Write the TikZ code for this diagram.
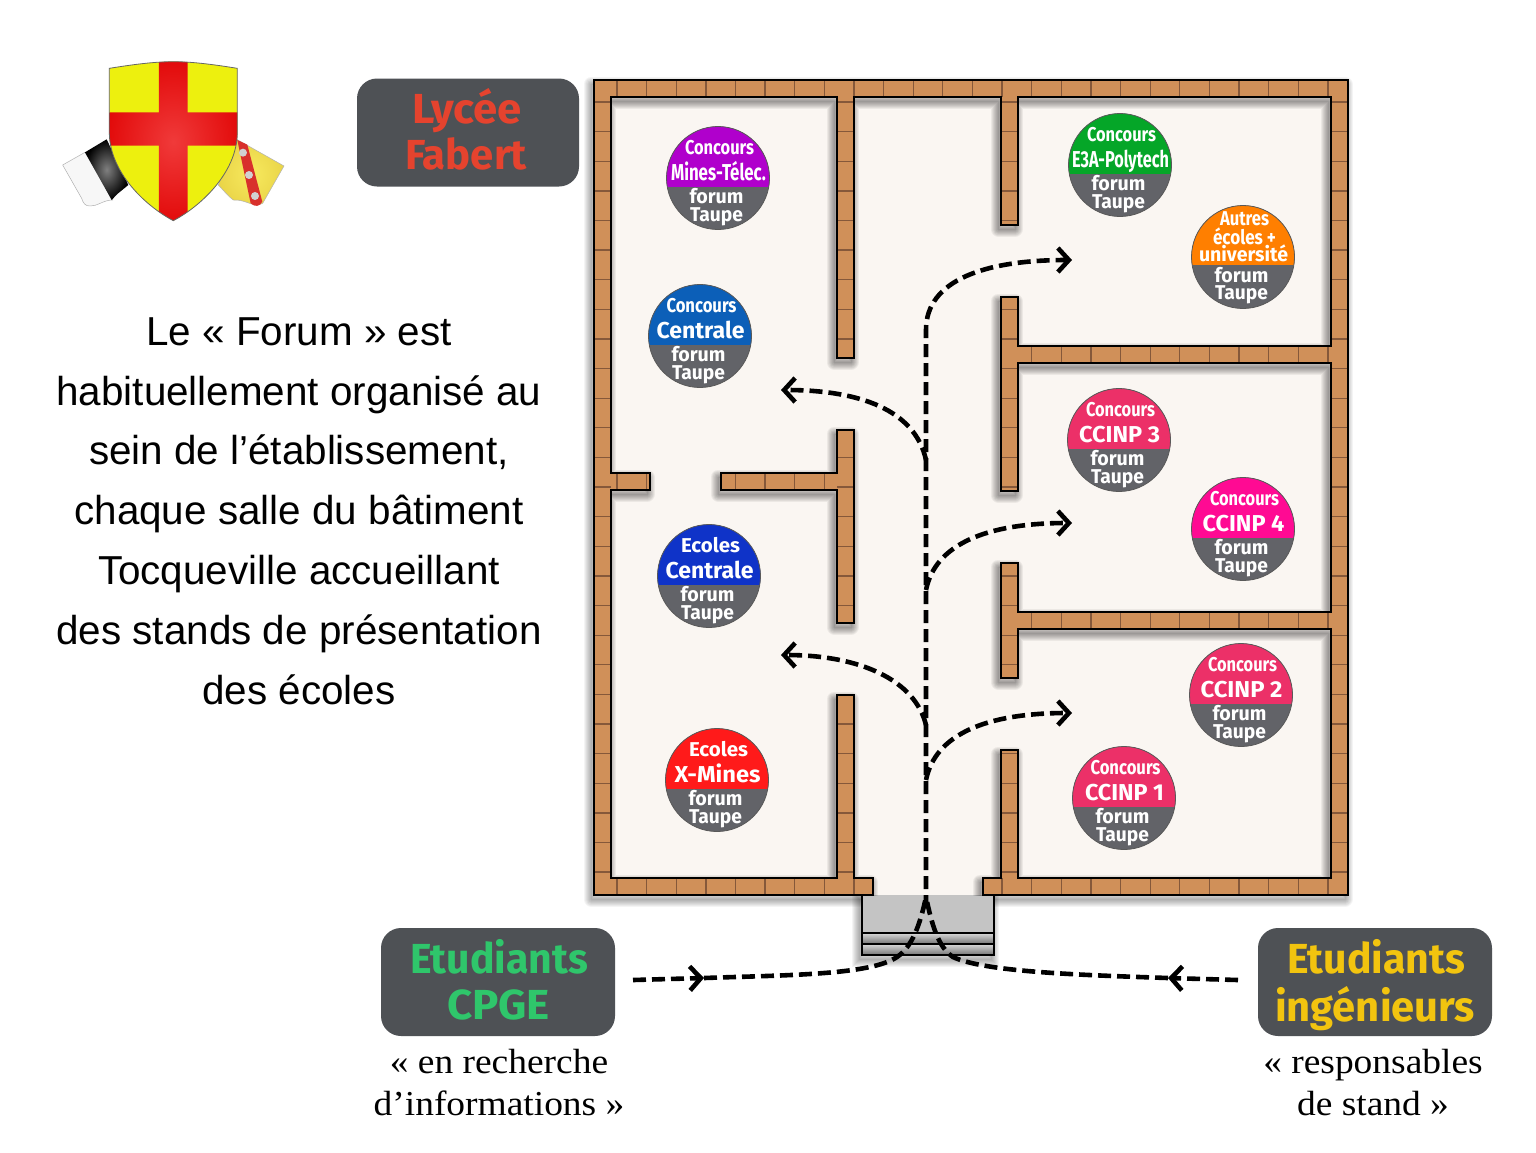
\documentclass[tikz,border=0pt]{standalone}
\usepackage{fontspec}
\usepackage{graphicx}
\usetikzlibrary{arrows.meta}
\setmainfont{Liberation Sans}
\newfontfamily\din{Fira Sans}
\newfontfamily\capserif[FakeStretch=1.07]{Liberation Serif}
\definecolor{brick}{HTML}{D09059}
\definecolor{brickline}{HTML}{85583A}
\definecolor{floorc}{HTML}{FAF6F2}
\definecolor{boxc}{HTML}{4E5155}
\definecolor{badgegrey}{HTML}{626368}
\definecolor{cpurple}{HTML}{B000CC}
\definecolor{cteal}{HTML}{0C5FB8}
\definecolor{cgreen}{HTML}{05A628}
\definecolor{corange}{HTML}{FF7F00}
\definecolor{ccrim}{HTML}{EC3068}
\definecolor{cpink}{HTML}{FF0A93}
\definecolor{cblue}{HTML}{0F33C8}
\definecolor{cred}{HTML}{FF1A1A}
\definecolor{lred}{HTML}{E5432E}
\definecolor{lgreen}{HTML}{2FC66B}
\definecolor{lyellow}{HTML}{F2C40F}
\definecolor{shieldy}{HTML}{EDF00E}
\definecolor{shieldr}{HTML}{E20A0A}
\definecolor{shieldh}{HTML}{F03A3A}
\definecolor{flagy}{HTML}{EAD548}
\definecolor{flagyh}{HTML}{F7E95E}
\definecolor{flagr}{HTML}{D8302C}
\newcommand\fw[3]{\resizebox{#2pt}{\height}{\fontsize{#1}{#1}\selectfont\din\bfseries #3}}
\tikzset{
  badgedisc/.style={circle,minimum size=103pt,inner sep=0pt,draw=black!65,line width=.8pt,fill=badgegrey},
  badgetext/.style={anchor=base,inner sep=0pt,text=white},
  labelbox/.style={rounded corners=20pt,fill=boxc,minimum height=108pt,inner sep=0pt},
  bigtext/.style={anchor=base,inner sep=0pt},
  route/.style={draw=black,line width=4.6pt,dash pattern=on 13pt off 6pt},
  tipr/.style={-{Straight Barb[length=11pt,width=24pt,line width=4.6pt]}},
}
% name, cx, cy, colour, line1 w, line1, line2 w, line2
\newcommand\badge[8]{%
  \node[badgedisc,path picture={\fill[#4] (-60,-60) rectangle (60,9);}] (#1) at (#2,#3) {};
  \node[badgetext] (#1-a) at (#2+1.5,#3-24) {\fw{20}{#5}{#6}};
  \node[badgetext] (#1-b) at (#2+.5,#3+2) {\fw{23}{#7}{#8}};
  \node[badgetext] (#1-c) at (#2-1.5,#3+25) {\fw{20}{54}{forum}};
  \node[badgetext] (#1-d) at (#2-1.5,#3+43) {\fw{20}{53}{Taupe}};
}
\def\wallpath{(873,895) -- (594,895) -- (594,80) -- (1348,80) -- (1348,895) -- (983,895) -- (983,878) -- (1001,878) -- (1001,750) -- (1018,750) -- (1018,878) -- (1331,878) -- (1331,629) -- (1018,629) -- (1018,678) -- (1001,678) -- (1001,563) -- (1018,563) -- (1018,612) -- (1331,612) -- (1331,363) -- (1018,363) -- (1018,491) -- (1001,491) -- (1001,297) -- (1018,297) -- (1018,346) -- (1331,346) -- (1331,97) -- (1018,97) -- (1018,225) -- (1001,225) -- (1001,97) -- (854,97) -- (854,358) -- (837,358) -- (837,97) -- (611,97) -- (611,473) -- (650,473) -- (650,490) -- (611,490) -- (611,878) -- (837,878) -- (837,695) -- (854,695) -- (854,878) -- (873,878) -- cycle
 (837,430) -- (854,430) -- (854,623) -- (837,623) -- (837,490) -- (721,490) -- (721,473) -- (837,473) -- cycle}
\def\shieldpath{(208,85) .. controls (270,75) and (340,65) .. (400,65) .. controls (460,65) and (530,75) .. (592,85) -- (592,280) .. controls (590,400) and (480,500) .. (400,542) .. controls (320,500) and (210,400) .. (208,280) -- cycle}
\begin{document}
\begin{tikzpicture}[x=1pt,y=-1pt,line join=miter]
\useasboundingbox (0,0) rectangle (1536,1152);
\fill[white] (0,0) rectangle (1536,1152);

% ---------- crest
\begin{scope}[shift={(40,40)},x=.3333pt,y=-.3333pt]
  % left flag
  \fill[black!3,draw=black!30,line width=.5pt] (68,375) -- (135,337) -- (218,480) .. controls (190,480) and (170,500) .. (150,498) .. controls (135,498) and (130,490) .. (125,475) -- cycle;
  \shade[inner color=black!50,outer color=black] (135,337) -- (200,298) -- (265,435) -- (232,462) -- (215,480) -- cycle;
  % right flag
  \shade[inner color=flagyh,outer color=flagy,draw=black!30,line width=.5pt] (535,435) -- (590,298) -- (732,378) -- (668,490) .. controls (640,505) and (620,478) .. (580,480) .. controls (565,470) and (550,450) .. (535,435) -- cycle;
  \fill[flagr] (592,300) -- (622,314) -- (667,485) .. controls (660,500) and (645,502) .. (632,490) -- cycle;
  \foreach \p in {(609,338),(627,405),(645,468)} \fill[black!18] \p ellipse (12 and 12);
  % shield
  \begin{scope}
    \path[clip] \shieldpath;
    \fill[shieldy] (200,60) rectangle (600,550);
    \shade[inner color=shieldh,outer color=shieldr] (357,60) -- (443,60) -- (443,217) -- (600,217) -- (600,317) -- (443,317) -- (443,550) -- (357,550) -- (357,317) -- (200,317) -- (200,217) -- (357,217) -- cycle;
  \end{scope}
  \draw[black!60,line width=.8pt] \shieldpath;
\end{scope}

% ---------- paragraph
\node[align=center,inner sep=0pt,font=\fontsize{40.4}{59.8}\selectfont] (para) at (299,511)
  {Le « Forum » est\\habituellement organisé au\\sein de l’établissement,\\chaque salle du bâtiment\\Tocqueville accueillant\\des stands de présentation\\des écoles};

% ---------- label boxes
\node[labelbox,minimum width=222pt] (lycee) at (468,132.5) {};
\node[bigtext,text=lred] (lycee-a) at (467,123) {\fw{42}{110}{Lycée}};
\node[bigtext,text=lred] (lycee-b) at (466,169) {\fw{42}{122}{Fabert}};
\node[labelbox,minimum width=234pt] (cpge) at (498,982) {};
\node[bigtext,text=lgreen] (cpge-a) at (499,973) {\fw{42}{178}{Etudiants}};
\node[bigtext,text=lgreen] (cpge-b) at (498.5,1019) {\fw{42}{103}{CPGE}};
\node[labelbox,minimum width=234pt] (ing) at (1375,982) {};
\node[bigtext,text=lyellow] (ing-a) at (1376,973) {\fw{42}{178}{Etudiants}};
\node[bigtext,text=lyellow] (ing-b) at (1375,1021) {\fw{42}{200}{ingénieurs}};

\node[align=center,inner sep=0pt,font=\capserif\fontsize{35}{42}\selectfont] (capl) at (499,1083) {« en recherche\\d’informations »};
\node[align=center,inner sep=0pt,font=\capserif\fontsize{35}{42}\selectfont] (capr) at (1373,1083) {« responsables\\de stand »};

% ---------- steps shadow and outer shadow
\foreach \w in {1,3,...,15} {
  \draw[black,opacity=.045,line width=\w pt,shift={(-3,4)}] (862,895) rectangle (994,955);
  \draw[black,opacity=.045,line width=\w pt,shift={(-3,4)},line join=round] \wallpath;
}
% ---------- floor
\fill[floorc] (596,82) rectangle (1346,895);
% ---------- steps
\node[inner sep=0pt,minimum width=131pt,minimum height=60pt,fill=black!23,draw=none] (stairs) at (928,925) {};
\shade[top color=black!15,bottom color=black!55] (863,933) rectangle (993,944);
\shade[top color=black!15,bottom color=black!55] (863,944) rectangle (993,955);
\draw[line width=2pt] (862,895) -- (862,955) -- (994,955) -- (994,895);
\draw[line width=1.6pt] (862,933) -- (994,933) (862,944) -- (994,944);

% ---------- inner wall shadows
\begin{scope}
  \clip (596,82) rectangle (1346,895);
  \foreach \w in {1,3,...,15}
    \draw[black,opacity=.055,line width=\w pt,shift={(-3,4)},line join=round] \wallpath;
\end{scope}

% ---------- walls
\fill[brick] \wallpath;
\begin{scope}
  \clip \wallpath;
  \foreach \k in {0,...,25} {
    \pgfmathsetmacro\gx{617+29.62*\k}
    \draw[brickline,line width=1.3pt] (\gx,80) -- (\gx,97) (\gx,878) -- (\gx,895);
    \ifnum\k>13 \draw[brickline,line width=1.3pt] (\gx,346) -- (\gx,363) (\gx,612) -- (\gx,629);\fi
    \ifnum\k<8 \draw[brickline,line width=1.3pt] (\gx,473) -- (\gx,490);\fi
  }
  \foreach \k in {0,...,26} {
    \pgfmathsetmacro\gy{102+29.62*\k}
    \draw[brickline,line width=1.3pt] (594,\gy) -- (611,\gy) (837,\gy) -- (854,\gy) (1001,\gy) -- (1018,\gy) (1331,\gy) -- (1348,\gy);
  }
\end{scope}
\draw[black,line width=2pt] \wallpath;

% ---------- badges
\badge{mines}{718}{178}{cpurple}{69}{Concours}{95}{Mines-Télec.}
\badge{cent}{700}{336}{cteal}{70}{Concours}{88}{Centrale}
\badge{ecent}{709}{576}{cblue}{59}{Ecoles}{88}{Centrale}
\badge{xmines}{717}{780}{cred}{59}{Ecoles}{86}{X-Mines}
\badge{e3a}{1120}{165}{cgreen}{69}{Concours}{97}{E3A-Polytech}
\badge{ccinpc}{1119}{440}{ccrim}{69}{Concours}{81}{CCINP 3}
\badge{ccinpd}{1243}{529}{cpink}{69}{Concours}{82}{CCINP 4}
\badge{ccinpb}{1241}{695}{ccrim}{69}{Concours}{82}{CCINP 2}
\badge{ccinpa}{1124}{798}{ccrim}{70}{Concours}{79}{CCINP 1}
% the badge with three lines
\node[badgedisc,path picture={\fill[corange] (-60,-60) rectangle (60,8);}] (autres) at (1243,257) {};
\node[badgetext] (autres-a) at (1244.5,225) {\fw{20}{49}{Autres}};
\node[badgetext] (autres-b) at (1244.5,244) {\fw{20}{63}{écoles +}};
\node[badgetext] (autres-c) at (1243.5,261) {\fw{20}{89}{université}};
\node[badgetext] (autres-d) at (1241.5,282) {\fw{20}{54}{forum}};
\node[badgetext] (autres-e) at (1241.5,299) {\fw{20}{53}{Taupe}};

% ---------- routes
\coordinate (entry) at (926,897);
\coordinate (start) at (926,908);
\coordinate (ra) at (1072,260);
\coordinate (rb) at (781,390);
\coordinate (rc) at (1072,523);
\coordinate (rd) at (781,655);
\coordinate (re) at (1072,713);
\coordinate (la) at (633,980);
\coordinate (lb) at (704,978);
\coordinate (rf) at (1238,980);
\coordinate (rg) at (1168,978);
\draw[route,tipr] (start) -- (926,330) .. controls (926,280) and (985,260) .. (ra);
\draw[route,tipr] (926,460) .. controls (915,410) and (860,390) .. (rb);
\draw[route,tipr] (926,590) .. controls (935,545) and (985,523) .. (rc);
\draw[route,tipr] (926,725) .. controls (915,680) and (860,655) .. (rd);
\draw[route,tipr] (926,780) .. controls (935,735) and (985,713) .. (re);
\draw[route,tipr] (la) -- (lb);
\draw[route,tipr] (rf) -- (rg);
\draw[route] (lb) .. controls (790,975) and (870,975) .. (897,957) .. controls (912,947) and (920,925) .. (entry);
\draw[route] (rg) .. controls (1080,975) and (985,972) .. (953,957) .. controls (938,947) and (932,925) .. (entry);
\end{tikzpicture}
\end{document}
